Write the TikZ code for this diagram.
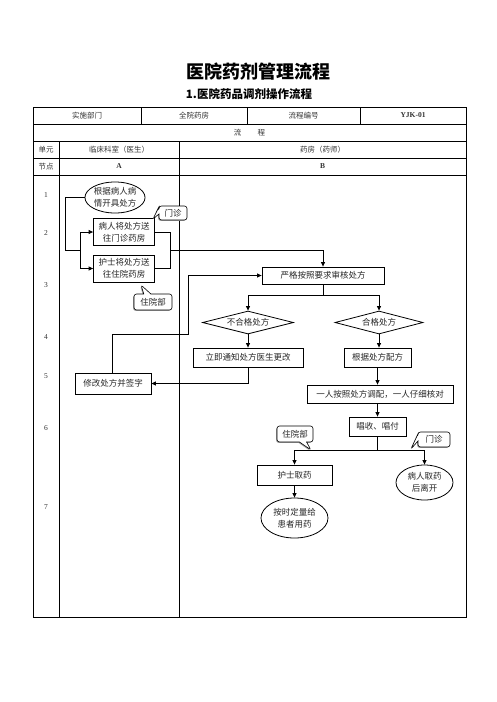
\documentclass[tikz,border=0pt]{standalone}
\usepackage{fontspec}
\setmainfont{Liberation Serif}
\newfontfamily\cjk{Noto Sans CJK SC}
\usetikzlibrary{arrows.meta,shapes.geometric,shapes.callouts,shadows}
\tikzset{
  txt/.style={font=\cjk\fontsize{8.5}{12}\selectfont, inner sep=0pt, text=black!85},
  hdr/.style={font=\cjk\fontsize{7.5}{9}\selectfont, inner sep=0pt, text=black!80},
  num/.style={font=\rmfamily\fontsize{7.5}{9}\selectfont, inner sep=0pt, text=black!80},
  tbl/.style={line width=0.9pt},
  box/.style={txt, draw, line width=0.8pt, align=center},
  oval/.style={txt, ellipse, draw, line width=0.8pt, align=center},
  dia/.style={txt, diamond, draw, line width=0.8pt, aspect=4},
  bubble/.style={txt, rectangle callout, draw, line width=0.6pt, rounded corners=2.5pt, fill=white,
    drop shadow={shadow xshift=-0.9pt, shadow yshift=-0.9pt, fill=black!35, opacity=1}},
  conn/.style={line width=0.8pt},
  arr/.style={line width=0.8pt, -{Triangle[length=4.5pt,width=4pt]}}
}
\begin{document}
\begin{tikzpicture}[x=1pt,y=-1pt]
\useasboundingbox (0,0) rectangle (496,702);
% titles
\node[font=\cjk\bfseries\fontsize{18}{20}\selectfont, inner sep=0pt] (title) at (258,72) {医院药剂管理流程};
\node[font=\cjk\bfseries\fontsize{11.5}{13}\selectfont, inner sep=0pt] (subtitle) at (249,94) {1.医院药品调剂操作流程};
% table
\draw[tbl] (33,107) rectangle (466,617);
\draw[tbl] (33,124) -- (466,124) (33,141) -- (466,141) (33,158) -- (466,158) (33,175) -- (466,175);
\draw[tbl] (141,107) -- (141,124) (247,107) -- (247,124) (360,107) -- (360,124);
\draw[tbl] (59,141) -- (59,617) (179,141) -- (179,617);
\node[hdr] (h1) at (87,115.5) {实施部门};
\node[hdr] (h2) at (194,115.5) {全院药房};
\node[hdr] (h3) at (303.5,115.5) {流程编号};
\node[num, font=\rmfamily\bfseries\fontsize{7.5}{9}\selectfont] (h4) at (413,115.5) {YJK-01};
\node[hdr] (h5) at (249.5,132.5) {流\hspace{2.2em}程};
\node[hdr] (h6) at (46,149.5) {单元};
\node[hdr] (h7) at (119,149.5) {临床科室（医生）};
\node[hdr] (h8) at (322.5,149.5) {药房（药师）};
\node[hdr] (h9) at (46,166.5) {节点};
\node[num, font=\rmfamily\bfseries\fontsize{7.5}{9}\selectfont] (hA) at (119,166.5) {A};
\node[num, font=\rmfamily\bfseries\fontsize{7.5}{9}\selectfont] (hB) at (322.5,166.5) {B};
% step numbers
\node[num] (n1) at (46,195) {1};
\node[num] (n2) at (46,233) {2};
\node[num] (n3) at (46,285) {3};
\node[num] (n4) at (46,337) {4};
\node[num] (n5) at (46,376) {5};
\node[num] (n6) at (46,428) {6};
\node[num] (n7) at (46,507) {7};
% nodes
\node[oval, minimum width=60, minimum height=31] (e1) at (115,197.5) {根据病人病\\情开具处方};
\node[box, minimum width=61, minimum height=27] (b1) at (124,232) {病人将处方送\\往门诊药房};
\node[box, minimum width=61, minimum height=27] (b2) at (124,268.5) {护士将处方送\\往住院药房};
\node[box, minimum width=122, minimum height=17] (b3) at (323,275.5) {严格按照要求审核处方};
\node[dia, minimum width=91, minimum height=23] (d1) at (248,322.5) {不合格处方};
\node[dia, minimum width=88, minimum height=23] (d2) at (379,322.5) {合格处方};
\node[box, minimum width=110, minimum height=19] (b4) at (248,357.5) {立即通知处方医生更改};
\node[box, minimum width=67, minimum height=19] (b5) at (377.5,357.5) {根据处方配方};
\node[box, minimum width=76, minimum height=21] (b6) at (113,383.5) {修改处方并签字};
\node[box, minimum width=146, minimum height=18] (b7) at (380,394) {一人按照处方调配，一人仔细核对};
\node[box, minimum width=57, minimum height=19] (b8) at (377.5,426.5) {唱收、唱付};
\node[box, minimum width=75, minimum height=20] (b9) at (294.5,475) {护士取药};
\node[oval, minimum width=67, minimum height=40] (e2) at (294.5,518) {按时定量给\\患者用药};
\node[oval, minimum width=57, minimum height=35] (e3) at (424.5,482.5) {病人取药\\后离开};
% callouts
\node[bubble, minimum width=28, minimum height=14, callout absolute pointer={(153,219)}] (c1) at (173,213) {门诊};
\node[bubble, minimum width=38, minimum height=16, callout absolute pointer={(141,285)}] (c2) at (153,302) {住院部};
\node[bubble, minimum width=36, minimum height=16, callout absolute pointer={(311,450)}] (c3) at (295,434) {住院部};
\node[bubble, minimum width=32, minimum height=15, callout absolute pointer={(411,449)}] (c4) at (434,439.5) {门诊};
% connectors
\coordinate (l1) at (65,250.5);
\coordinate (j1) at (80,250.5);
\draw[conn] (e1.west) -| (l1) -- (j1);
\draw[arr] (j1) |- (b1.west);
\draw[arr] (j1) |- (b2.west);
\coordinate (r1) at (170,250.5);
\draw[conn] (b1.east) -| (r1);
\draw[conn] (b2.east) -| (r1);
\draw[arr] (r1) -| (b3.north);
\coordinate (s1) at (323,295);
\draw[conn] (b3.south) -- (s1);
\draw[arr] (s1) -| (d1.north);
\draw[arr] (s1) -| (d2.north);
\draw[arr] (d1.south) -- (b4.north);
\draw[arr] (d2.south) -- (d2.south |- b5.north);
\draw[arr] (b4.south) |- (b6.east);
\coordinate (m1) at (112,334);
\coordinate (m2) at (188,334);
\draw[arr] (b6.north -| m1) -- (m1) -- (m2) |- (b3.west);
\draw[arr] (b5.south) -- (b5.south |- b7.north);
\draw[arr] (b5.south |- b7.south) -- (b8.north);
\coordinate (s2) at (377.5,450);
\draw[conn] (b8.south) -- (s2);
\draw[arr] (s2) -| (b9.north);
\draw[arr] (s2) -| (e3.north);
\draw[arr] (b9.south) -- (e2.north);
\end{tikzpicture}
\end{document}
